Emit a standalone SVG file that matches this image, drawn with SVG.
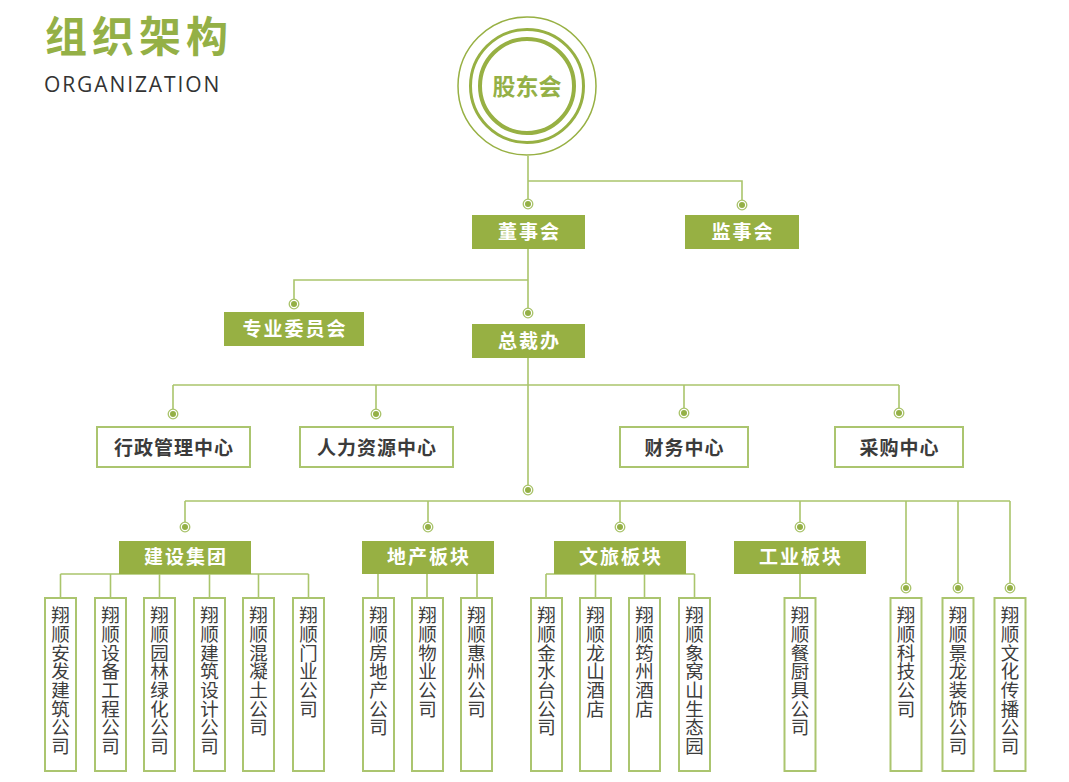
<svg xmlns="http://www.w3.org/2000/svg" xmlns:xlink="http://www.w3.org/1999/xlink" width="1069" height="782" viewBox="0 0 1069 782">
<style>
.ln{fill:none;stroke:#aac56c;stroke-width:1.6}
.gb{fill:#97b043}
.wb{fill:#fff;stroke:#abc56f;stroke-width:2}
.gt{font-family:"Noto Sans CJK SC",sans-serif;font-size:19px;font-weight:700;fill:#fff;text-anchor:middle;letter-spacing:2px}
.dt{font-family:"Noto Sans CJK SC",sans-serif;font-size:19px;font-weight:700;fill:#3b3b3b;text-anchor:middle;letter-spacing:1px}
.vt{font-family:"Noto Sans CJK SC",sans-serif;font-size:18.5px;fill:#3d3d3d;writing-mode:vertical-rl;letter-spacing:0.2px}
</style>
<defs>
<g id="dot"><circle r="4.8" fill="#fff" stroke="#a9c36a" stroke-width="1.3"/><circle r="3" fill="#94b046"/></g>
</defs>
<rect width="1069" height="782" fill="#fff"/>
<g id="title">
<text x="45" y="52" font-family="'Noto Sans CJK SC',sans-serif" font-size="42" font-weight="700" fill="#94b046" letter-spacing="5">组织架构</text>
<text x="44" y="92" font-family="'Open Sans',sans-serif" font-size="21" fill="#333" letter-spacing="1.9">ORGANIZATION</text>
</g>
<g id="connectors">
<path class="ln" d="M528 156V181H742V204M528 181V204"/>
<path class="ln" d="M528 249V313M528 280H294V304"/>
<path class="ln" d="M528 358V490M173 385H899M173 385V414M376 385V414M684 385V414M899 385V414"/>
<path class="ln" d="M185 501H1010M185 501V527M428 501V527M620 501V527M800 501V527M906 501V588M958 501V588M1010 501V588"/>
<path class="ln" d="M60.5 574H308.5M60.5 574V598M110.5 574V598M159.5 574V598M209.5 574V598M258.5 574V598M308.5 574V598"/>
<path class="ln" d="M378 573V598M427 573V598M477 573V598"/>
<path class="ln" d="M546 574H694.5M546 574V598M595.5 574V598M644.5 574V598M694.5 574V598"/>
<path class="ln" d="M800 573V598"/>
<use xlink:href="#dot" x="528" y="204"/>
<use xlink:href="#dot" x="742" y="205"/>
<use xlink:href="#dot" x="294" y="304"/>
<use xlink:href="#dot" x="528" y="313"/>
<use xlink:href="#dot" x="173" y="414"/>
<use xlink:href="#dot" x="376" y="414"/>
<use xlink:href="#dot" x="684" y="413"/>
<use xlink:href="#dot" x="899" y="413"/>
<use xlink:href="#dot" x="528" y="490"/>
<use xlink:href="#dot" x="185" y="527"/>
<use xlink:href="#dot" x="428" y="527"/>
<use xlink:href="#dot" x="620" y="527"/>
<use xlink:href="#dot" x="800" y="527"/>
<use xlink:href="#dot" x="906" y="588"/>
<use xlink:href="#dot" x="958" y="588"/>
<use xlink:href="#dot" x="1010" y="588"/>
</g>
<g id="gudonghui">
<circle cx="527" cy="86" r="69" fill="#fff" stroke="#97b043" stroke-width="1.5"/>
<circle cx="527" cy="86" r="56.5" fill="none" stroke="#97b043" stroke-width="3"/>
<circle cx="527" cy="86" r="47" fill="none" stroke="#97b043" stroke-width="4"/>
<text x="527" y="94.5" font-family="'Noto Sans CJK SC',sans-serif" font-size="23" font-weight="700" fill="#94b046" text-anchor="middle">股东会</text>
</g>
<g id="dongshihui"><rect class="gb" x="472" y="215" width="113" height="34"/><text class="gt" x="529.5" y="239">董事会</text></g>
<g id="jianshihui"><rect class="gb" x="685" y="215" width="114" height="34"/><text class="gt" x="743" y="239">监事会</text></g>
<g id="zhuanye"><rect class="gb" x="224" y="312" width="140" height="34"/><text class="gt" x="295" y="336">专业委员会</text></g>
<g id="zongcaiban"><rect class="gb" x="472" y="324" width="113" height="34"/><text class="gt" x="529.5" y="348">总裁办</text></g>
<g id="xingzheng"><rect class="wb" x="97" y="427" width="153" height="40"/><text class="dt" x="174" y="455">行政管理中心</text></g>
<g id="renli"><rect class="wb" x="300" y="427" width="153" height="40"/><text class="dt" x="377" y="455">人力资源中心</text></g>
<g id="caiwu"><rect class="wb" x="620" y="427" width="128" height="40"/><text class="dt" x="684.5" y="455">财务中心</text></g>
<g id="caigou"><rect class="wb" x="835" y="427" width="128" height="40"/><text class="dt" x="899.5" y="455">采购中心</text></g>
<g id="jianshe"><rect class="gb" x="119" y="541" width="132" height="33"/><text class="gt" x="186" y="564">建设集团</text></g>
<g id="dichan"><rect class="gb" x="362" y="541" width="132" height="33"/><text class="gt" x="429" y="564">地产板块</text></g>
<g id="wenlv"><rect class="gb" x="554" y="541" width="132" height="33"/><text class="gt" x="621" y="564">文旅板块</text></g>
<g id="gongye"><rect class="gb" x="734" y="541" width="132" height="33"/><text class="gt" x="801" y="564">工业板块</text></g>
<g id="c1"><rect class="wb" x="45" y="598" width="31" height="173"/><text class="vt" x="60.5" y="606">翔顺安发建筑公司</text></g>
<g id="c2"><rect class="wb" x="95" y="598" width="31" height="173"/><text class="vt" x="110.5" y="606">翔顺设备工程公司</text></g>
<g id="c3"><rect class="wb" x="144" y="598" width="31" height="173"/><text class="vt" x="159.5" y="606">翔顺园林绿化公司</text></g>
<g id="c4"><rect class="wb" x="194" y="598" width="31" height="173"/><text class="vt" x="209.5" y="606">翔顺建筑设计公司</text></g>
<g id="c5"><rect class="wb" x="243" y="598" width="31" height="173"/><text class="vt" x="258.5" y="606">翔顺混凝土公司</text></g>
<g id="c6"><rect class="wb" x="293" y="598" width="31" height="173"/><text class="vt" x="308.5" y="606">翔顺门业公司</text></g>
<g id="d1"><rect class="wb" x="363" y="598" width="31" height="173"/><text class="vt" x="378.5" y="606">翔顺房地产公司</text></g>
<g id="d2"><rect class="wb" x="412" y="598" width="31" height="173"/><text class="vt" x="427.5" y="606">翔顺物业公司</text></g>
<g id="d3"><rect class="wb" x="461" y="598" width="31" height="173"/><text class="vt" x="476.5" y="606">翔顺惠州公司</text></g>
<g id="w1"><rect class="wb" x="531" y="598" width="31" height="173"/><text class="vt" x="546.5" y="606">翔顺金水台公司</text></g>
<g id="w2"><rect class="wb" x="580" y="598" width="31" height="173"/><text class="vt" x="595.5" y="606">翔顺龙山酒店</text></g>
<g id="w3"><rect class="wb" x="629" y="598" width="31" height="173"/><text class="vt" x="644.5" y="606">翔顺筠州酒店</text></g>
<g id="w4"><rect class="wb" x="679" y="598" width="31" height="173"/><text class="vt" x="694.5" y="606">翔顺象窝山生态园</text></g>
<g id="g1"><rect class="wb" x="784.5" y="598" width="31" height="173"/><text class="vt" x="800" y="606">翔顺餐厨具公司</text></g>
<g id="r1"><rect class="wb" x="890.5" y="598" width="31" height="173"/><text class="vt" x="906" y="606">翔顺科技公司</text></g>
<g id="r2"><rect class="wb" x="942.5" y="598" width="31" height="173"/><text class="vt" x="958" y="606">翔顺景龙装饰公司</text></g>
<g id="r3"><rect class="wb" x="994.5" y="598" width="31" height="173"/><text class="vt" x="1010" y="606">翔顺文化传播公司</text></g>
</svg>
